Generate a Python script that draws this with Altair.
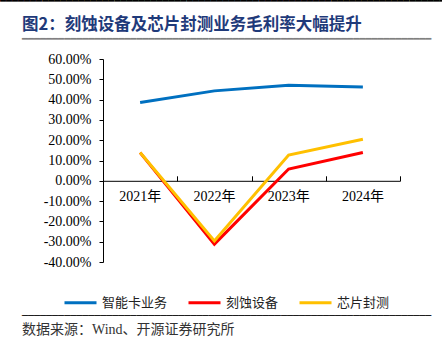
import altair as alt
import pandas as pd

years = ["2021年", "2022年", "2023年", "2024年"]
series_names = ["智能卡业务", "刻蚀设备", "芯片封测"]
smart_card = [0.386, 0.443, 0.471, 0.462]
etching = [0.139, -0.312, 0.058, 0.139]
packaging = [0.139, -0.296, 0.127, 0.205]
y_ticks = [-0.4, -0.3, -0.2, -0.1, 0.0, 0.1, 0.2, 0.3, 0.4, 0.5, 0.6]
colors = ["#0070C0", "#FF0000", "#FFC000"]
title_text = "图2：刻蚀设备及芯片封测业务毛利率大幅提升"
source_text = "数据来源：Wind、开源证券研究所"

rows = []
for name, vals in zip(series_names, [smart_card, etching, packaging]):
    for yr, v in zip(years, vals):
        rows.append({"year": yr, "series": name, "value": v})
df = pd.DataFrame(rows)

W, H = 297, 203
ymin, ymax = -0.4, 0.6
zero_y = H * (ymax - 0) / (ymax - ymin)

serif = "Liberation Serif, Noto Sans CJK SC"
cjk = "Noto Sans CJK SC"

xscale = alt.Scale(type="band", domain=years, paddingInner=0, paddingOuter=0)
yscale = alt.Scale(domain=[ymin, ymax], nice=False, zero=False)
yaxis = alt.Axis(values=y_ticks, title=None, grid=False,
                 labelExpr="replace(format(datum.value, '.2%'), '\u2212', '-')",
                 labelFont=serif, labelFontSize=14, labelColor="#000000",
                 domainColor="#000000", tickColor="#000000", tickSize=4,
                 labelPadding=8)

lines = alt.Chart(df).mark_line(strokeWidth=3).encode(
    x=alt.X("year:N", scale=xscale, sort=years,
            axis=alt.Axis(orient="top", offset=-zero_y, labels=False, title=None,
                          domainColor="#000000", tickColor="#000000", tickSize=5,
                          tickBand="extent", grid=False, domainWidth=1)),
    y=alt.Y("value:Q", scale=yscale, axis=yaxis),
    color=alt.Color("series:N",
                    scale=alt.Scale(domain=series_names, range=colors),
                    legend=alt.Legend(orient="none", legendX=-40, legendY=226,
                                      direction="horizontal", title=None,
                                      symbolType="stroke", symbolStrokeWidth=3,
                                      symbolSize=1024, labelFont=cjk,
                                      labelFontSize=13, labelColor="#222222",
                                      columnPadding=14, labelOffset=4)),
    order=alt.Order("series_order:Q"),
).transform_calculate(
    series_order="indexof(['智能卡业务','刻蚀设备','芯片封测'], datum.series)"
)

labels_layer = alt.Chart(df).mark_point(opacity=0).encode(
    x=alt.X("year:N", scale=xscale, sort=years,
            axis=alt.Axis(orient="bottom", offset=-(H - zero_y), title=None,
                          domain=False, ticks=False, labelAngle=0,
                          labelFont=serif, labelFontSize=14, labelColor="#000000",
                          labelPadding=9, grid=False)),
    y=alt.Y("value:Q", scale=yscale, axis=yaxis),
)

one = alt.Data(values=[{"a": 1}])


def hline(x1, length, y, char, color, fs=10):
    n = int(round(length / (0.6021 * fs)))
    return alt.Chart(one).mark_text(
        align="left", baseline="middle", font="DejaVu Sans Mono", fontSize=fs,
        color=color).encode(x=alt.value(x1), y=alt.value(y), text=alt.value(char * n))


top_line = hline(-103, 445, -58, "\u2501", "#000000")
title_line = hline(-81, 410, -20.5, "\u2501", "#808080")
bottom_line = hline(-81, 410, 257, "\u2500", "#000000")
title_mark = alt.Chart(one).mark_text(
    align="left", baseline="middle", font=cjk, fontSize=16.5, fontWeight="bold",
    color="#1F3A7A").encode(x=alt.value(-81), y=alt.value(-34), text=alt.value(title_text))
source_mark = alt.Chart(one).mark_text(
    align="left", baseline="middle", font=serif, fontSize=14,
    color="#333333").encode(x=alt.value(-81), y=alt.value(271), text=alt.value(source_text))

chart = alt.layer(
    lines, labels_layer, top_line, title_line, bottom_line, title_mark, source_mark
).resolve_axis(x="independent").properties(
    width=W, height=H,
    autosize=alt.AutoSizeParams(type="none"),
    padding={"left": 103, "top": 59, "right": 42, "bottom": 83},
).configure_view(stroke=None)

chart.save("out.html", embed_options={"renderer": "svg", "actions": False})
